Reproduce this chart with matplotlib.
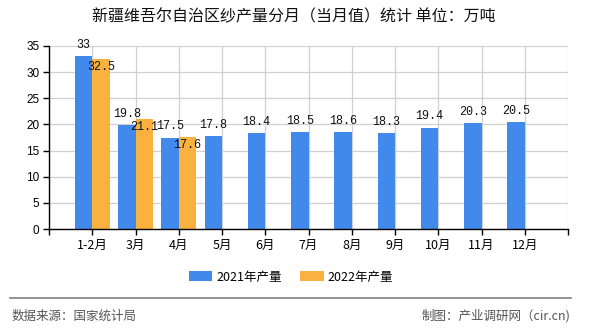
import matplotlib
matplotlib.use("Agg")
import matplotlib.pyplot as plt
from matplotlib.patches import Patch
from matplotlib.lines import Line2D
import numpy as np

plt.rcParams['font.family'] = ['Noto Sans CJK SC', 'DejaVu Sans']

months = ['1-2月', '3月', '4月', '5月', '6月', '7月', '8月', '9月', '10月', '11月', '12月']
output_2021 = [33, 19.8, 17.5, 17.8, 18.4, 18.5, 18.6, 18.3, 19.4, 20.3, 20.5]
output_2022 = [32.5, 21.1, 17.6]
series_names = ['2021年产量', '2022年产量']
y_ticks = [0, 5, 10, 15, 20, 25, 30, 35]

blue = '#418aeb'
orange = '#fbb13f'

fig = plt.figure(figsize=(5.9, 3.3), dpi=100)
ax = fig.add_axes([49 / 590, 1 - 229 / 330, 519 / 590, 183 / 330])

x = np.arange(len(months))
w = 0.4
ax.bar(x - w / 2, output_2021, width=w, color=blue, zorder=3)
x2 = np.arange(len(output_2022))
ax.bar(x2 + w / 2, output_2022, width=w, color=orange, zorder=3)

label_font = dict(family=['Liberation Mono', 'DejaVu Sans Mono'], fontsize=8.5, color='#111111')
for xi, v in zip(x, output_2021):
    ax.annotate(f'{v:g}', (xi - w / 2, v), xytext=(0, 8), textcoords='offset points',
                ha='center', va='center', zorder=5, **label_font)
for xi, v in zip(x2, output_2022):
    ax.annotate(f'{v:g}', (xi + w / 2, v), xytext=(0, -6), textcoords='offset points',
                ha='center', va='center', zorder=5, **label_font)

ax.set_xlim(-1, len(months))
ax.set_ylim(0, 35)
ax.set_yticks(y_ticks)
ax.set_yticklabels([str(t) for t in y_ticks], fontsize=8.5, family=['Liberation Sans', 'DejaVu Sans'])
ax.set_xticks(np.arange(-1, len(months) + 1))
ax.set_xticklabels([''] + months + [''], fontsize=9)

ax.grid(True, color='#d0d0d0', linewidth=0.9, zorder=0)
for s in ['top', 'right']:
    ax.spines[s].set_visible(False)
for s in ['left', 'bottom']:
    ax.spines[s].set_color('black')
    ax.spines[s].set_linewidth(1.0)
    ax.spines[s].set_zorder(4)
ax.tick_params(axis='both', length=4, width=1, color='black', pad=3)

fig.text(294 / 590, 1 - 17 / 330, '新疆维吾尔自治区纱产量分月（当月值）统计 单位：万吨',
         ha='center', va='center', fontsize=11.5, fontweight='medium', color='#111111')

handles = [Patch(facecolor=blue, edgecolor='none'), Patch(facecolor=orange, edgecolor='none')]
fig.legend(handles, series_names, loc='center', bbox_to_anchor=(291 / 590, 1 - 277 / 330),
           ncol=2, frameon=False, fontsize=9, handlelength=1.9, handleheight=0.8,
           handletextpad=0.3, columnspacing=1.5)

fig.add_artist(Line2D([10 / 590, 571 / 590], [1 - 298 / 330, 1 - 298 / 330],
                      color='#808080', linewidth=1.2, transform=fig.transFigure))
fig.text(12 / 590, 1 - 316 / 330, '数据来源：国家统计局', ha='left', va='center',
         fontsize=9, color='#555555')
fig.text(570 / 590, 1 - 316 / 330, '制图：产业调研网（cir.cn)', ha='right', va='center',
         fontsize=9, color='#555555')

fig.savefig('out.png', dpi=100)
